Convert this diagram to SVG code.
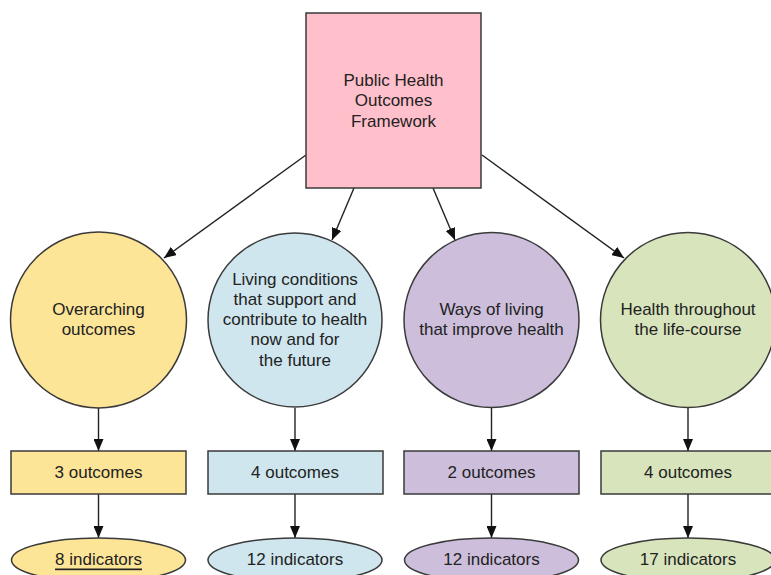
<svg xmlns="http://www.w3.org/2000/svg" width="771" height="575" viewBox="0 0 771 575">
  <style>
    .shape { stroke: #3a3a3a; stroke-width: 1.5; }
    .lbl { font-family: "Liberation Sans", Arial, sans-serif; font-size: 17px; fill: #222; text-anchor: middle; dominant-baseline: central; }
    .edge { stroke: #222; stroke-width: 1.4; fill: none; marker-end: url(#arrow); }
    .yellow { fill: #fde598; }
    .blue { fill: #cfe6ee; }
    .purple { fill: #cdbfdc; }
    .green { fill: #d8e4bc; }
    .pink { fill: #ffbfcb; }
  </style>
  <defs>
    <marker id="arrow" viewBox="0 0 12 10" refX="12" refY="5" markerWidth="12" markerHeight="10" markerUnits="userSpaceOnUse" orient="auto">
      <path d="M0,0 L12,5 L0,10 Z" fill="#111"/>
    </marker>
  </defs>
  <rect width="771" height="575" fill="#fff"/>

  <g id="connectors">
    <line class="edge" x1="306" y1="155" x2="164" y2="258"/>
    <line class="edge" x1="354" y1="188" x2="332" y2="240"/>
    <line class="edge" x1="433" y1="188" x2="455" y2="240"/>
    <line class="edge" x1="482" y1="155" x2="624" y2="258"/>
    <line class="edge" x1="98.5" y1="408" x2="98.5" y2="451"/>
    <line class="edge" x1="295" y1="408" x2="295" y2="451"/>
    <line class="edge" x1="491.5" y1="408" x2="491.5" y2="451"/>
    <line class="edge" x1="688" y1="408" x2="688" y2="451"/>
    <line class="edge" x1="98.5" y1="494" x2="98.5" y2="538"/>
    <line class="edge" x1="295" y1="494" x2="295" y2="538"/>
    <line class="edge" x1="491.5" y1="494" x2="491.5" y2="538"/>
    <line class="edge" x1="688" y1="494" x2="688" y2="538"/>
  </g>

  <g id="phof">
    <rect class="shape pink" x="306" y="13" width="175" height="175"/>
    <text class="lbl" x="393.5" y="80">Public Health</text>
    <text class="lbl" x="393.5" y="100">Outcomes</text>
    <text class="lbl" x="393.5" y="121">Framework</text>
  </g>

  <!-- Domain circles -->
  <g id="overarching">
    <circle class="shape yellow" cx="98.5" cy="320" r="88"/>
    <text class="lbl" x="98.5" y="309">Overarching</text>
    <text class="lbl" x="98.5" y="329">outcomes</text>
  </g>
  <g id="living-conditions">
    <circle class="shape blue" cx="295" cy="320" r="87"/>
    <text class="lbl" x="295" y="279">Living conditions</text>
    <text class="lbl" x="295" y="299">that support and</text>
    <text class="lbl" x="295" y="319">contribute to health</text>
    <text class="lbl" x="295" y="339">now and for</text>
    <text class="lbl" x="295" y="360">the future</text>
  </g>
  <g id="ways-of-living">
    <circle class="shape purple" cx="491.5" cy="320" r="87.5"/>
    <text class="lbl" x="491.5" y="309">Ways of living</text>
    <text class="lbl" x="491.5" y="329">that improve health</text>
  </g>
  <g id="life-course">
    <circle class="shape green" cx="688" cy="320" r="87.5"/>
    <text class="lbl" x="688" y="309">Health throughout</text>
    <text class="lbl" x="688" y="329">the life-course</text>
  </g>

  <!-- Outcome counts -->
  <g id="outcomes-1">
    <rect class="shape yellow" x="11" y="451" width="175" height="43"/>
    <text class="lbl" x="98.5" y="472.5">3 outcomes</text>
  </g>
  <g id="outcomes-2">
    <rect class="shape blue" x="208" y="451" width="175" height="43"/>
    <text class="lbl" x="295" y="472.5">4 outcomes</text>
  </g>
  <g id="outcomes-3">
    <rect class="shape purple" x="404" y="451" width="175" height="43"/>
    <text class="lbl" x="491.5" y="472.5">2 outcomes</text>
  </g>
  <g id="outcomes-4">
    <rect class="shape green" x="601" y="451" width="175" height="43"/>
    <text class="lbl" x="688" y="472.5">4 outcomes</text>
  </g>

  <!-- Indicator counts -->
  <g id="indicators-1">
    <ellipse class="shape yellow" cx="98.5" cy="560" rx="87" ry="22"/>
    <text class="lbl" x="98.5" y="559" text-decoration="underline">8 indicators</text>
  </g>
  <g id="indicators-2">
    <ellipse class="shape blue" cx="295" cy="560" rx="87" ry="22"/>
    <text class="lbl" x="295" y="559">12 indicators</text>
  </g>
  <g id="indicators-3">
    <ellipse class="shape purple" cx="491.5" cy="560" rx="87" ry="22"/>
    <text class="lbl" x="491.5" y="559">12 indicators</text>
  </g>
  <g id="indicators-4">
    <ellipse class="shape green" cx="688" cy="560" rx="87" ry="22"/>
    <text class="lbl" x="688" y="559">17 indicators</text>
  </g>
</svg>
